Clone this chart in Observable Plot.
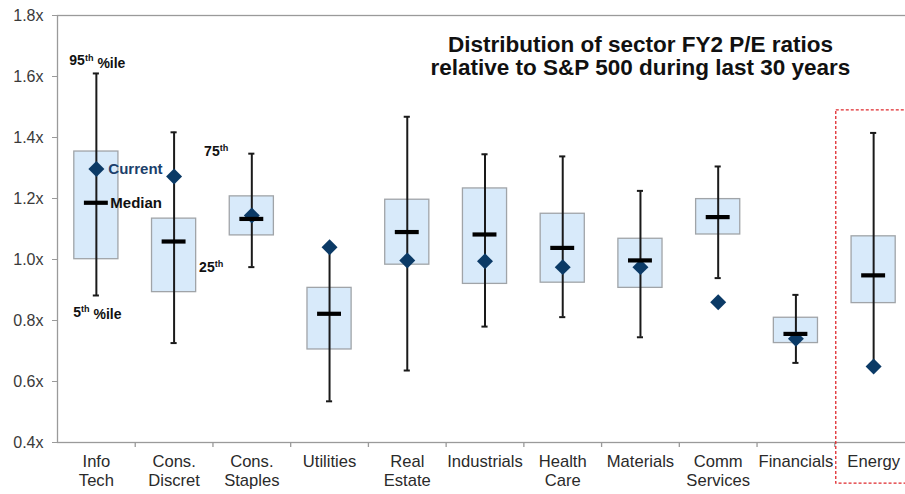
<!DOCTYPE html>
<html>
<head>
<meta charset="utf-8">
<script src="https://cdn.jsdelivr.net/npm/d3@7"></script>
<script src="https://cdn.jsdelivr.net/npm/@observablehq/plot@0.6"></script>
<style>
  html, body { margin: 0; padding: 0; background: #fff; }
  #chart svg { display: block; }
</style>
</head>
<body>
<div id="chart"></div>
<script>
const sectors = ["Info\nTech","Cons.\nDiscret","Cons.\nStaples","Utilities","Real\nEstate","Industrials","Health\nCare","Materials","Comm\nServices","Financials","Energy"];
const p5      = [0.882, 0.726, 0.975, 0.535, 0.636, 0.780, 0.811, 0.745, 0.939, 0.661, 0.650];
const p25     = [1.001, 0.893, 1.079, 0.705, 0.983, 0.920, 0.924, 0.907, 1.082, 0.726, 0.857];
const median  = [1.186, 1.059, 1.133, 0.822, 1.090, 1.082, 1.038, 0.997, 1.139, 0.756, 0.948];
const p75     = [1.354, 1.134, 1.207, 0.907, 1.196, 1.233, 1.150, 1.068, 1.198, 0.809, 1.076];
const p95     = [1.610, 1.417, 1.347, 1.040, 1.468, 1.345, 1.338, 1.225, 1.305, 0.884, 1.415];
const current = [1.297, 1.272, 1.144, 1.040, 0.997, 0.994, 0.975, 0.975, 0.860, 0.740, 0.649];
const yTicks  = [0.4, 0.6, 0.8, 1.0, 1.2, 1.4, 1.6, 1.8];

const titleLines = ["Distribution of sector FY2 P/E ratios", "relative to S&P 500 during last 30 years"];
const titleY = [1.704, 1.627];
const titleSector = "Materials";

// legend-style annotations (sector, value, horizontal offset, anchor)
const notes = [
  {text: "95th %ile", sector: "Info\nTech",    value: 1.652, dx: 1,  anchor: "middle", color: "#111", size: 14},
  {text: "Current",   sector: "Info\nTech",    value: 1.295, dx: 12, anchor: "start",  color: "#1b3f6b", size: 15},
  {text: "Median",    sector: "Info\nTech",    value: 1.186, dx: 14, anchor: "start",  color: "#111", size: 15},
  {text: "75th",      sector: "Cons.\nDiscret", value: 1.355, dx: 30, anchor: "start",  color: "#111", size: 14},
  {text: "25th",      sector: "Cons.\nDiscret", value: 0.975, dx: 25, anchor: "start",  color: "#111", size: 14},
  {text: "5th %ile",  sector: "Info\nTech",    value: 0.827, dx: 1,  anchor: "middle", color: "#111", size: 14}
];
const highlight = [{sector: "Energy", top: 1.489, bottom: 0.265}];

const data = sectors.map((s, i) => ({sector: s, p5: p5[i], p25: p25[i], median: median[i], p75: p75[i], p95: p95[i], current: current[i]}));

const W = 905, H = 494, ML = 57, MR = -7;
const bw = (W - ML - MR) / sectors.length;

const chart = Plot.plot({
  width: W, height: H,
  marginLeft: ML, marginRight: MR, marginTop: 15, marginBottom: 52,
  style: {fontFamily: "'Liberation Sans', Arial, sans-serif", background: "#fff", overflow: "hidden"},
  x: {type: "band", domain: sectors, padding: 0, round: false, label: null},
  y: {domain: [0.4, 1.8], label: null},
  marks: [
    Plot.frame({stroke: "#9a9a9a", strokeWidth: 1.3}),
    Plot.axisY({ticks: yTicks, tickFormat: d => d.toFixed(1) + "x", tickSize: 5, tickPadding: 9, fontSize: 16, fill: "#3a3a3a", stroke: "#9a9a9a", label: null}),
    Plot.axisX({tickSize: 0, tickPadding: 11, fontSize: 16.6, lineHeight: 1.15, fill: "#2a2a2a", label: null}),
    Plot.ruleX(sectors.slice(1), {x: d => d, y1: 0.4, y2: 0.4 - 5 / 305, dx: -bw / 2, stroke: "#9a9a9a", strokeWidth: 1.3}),
    Plot.barY(data, {x: "sector", y1: "p25", y2: "p75", fill: "#d8eafa", stroke: "#a0a4a8", strokeWidth: 1.3, insetLeft: 16.8, insetRight: 16.8}),
    Plot.ruleX(data, {x: "sector", y1: "p5", y2: "p95", stroke: "#1a1a1a", strokeWidth: 2}),
    Plot.tickY(data, {x: "sector", y: "p5", stroke: "#1a1a1a", strokeWidth: 2, insetLeft: 35.8, insetRight: 35.8}),
    Plot.tickY(data, {x: "sector", y: "p95", stroke: "#1a1a1a", strokeWidth: 2, insetLeft: 35.8, insetRight: 35.8}),
    Plot.dot(data, {x: "sector", y: "current", symbol: "diamond2", r: 7.2, fill: "#0b3a66", stroke: "none"}),
    Plot.tickY(data, {x: "sector", y: "median", stroke: "#000", strokeWidth: 4.2, insetLeft: 26.9, insetRight: 26.9}),
    Plot.barY(highlight, {x: "sector", y1: "bottom", y2: "top", fill: "none", stroke: "#e0282d", strokeWidth: 1.3, strokeDasharray: "3,2", insetLeft: 1.5}),
    ...notes.map(n => Plot.text([n], {x: "sector", y: "value", text: "text", dx: n.dx, textAnchor: n.anchor, fill: n.color, fontSize: n.size, fontWeight: "bold"})),
    Plot.text(titleLines, {x: () => titleSector, y: (d, i) => titleY[i], text: d => d, fontSize: 22.5, fontWeight: "bold", fill: "#111"})
  ]
});

// superscript "th"
d3.select(chart).selectAll("text").each(function() {
  const el = d3.select(this);
  if (el.selectAll("tspan").size() > 0) return;
  const t = this.textContent;
  const m = t.match(/^(\d+)th(.*)$/);
  if (!m) return;
  el.text(null);
  el.append("tspan").text(m[1]);
  el.append("tspan").attr("font-size", "0.65em").attr("dy", "-0.5em").text("th");
  if (m[2]) el.append("tspan").attr("dy", "0.5em").text(m[2]);
});

document.getElementById("chart").appendChild(chart);
</script>
</body>
</html>
